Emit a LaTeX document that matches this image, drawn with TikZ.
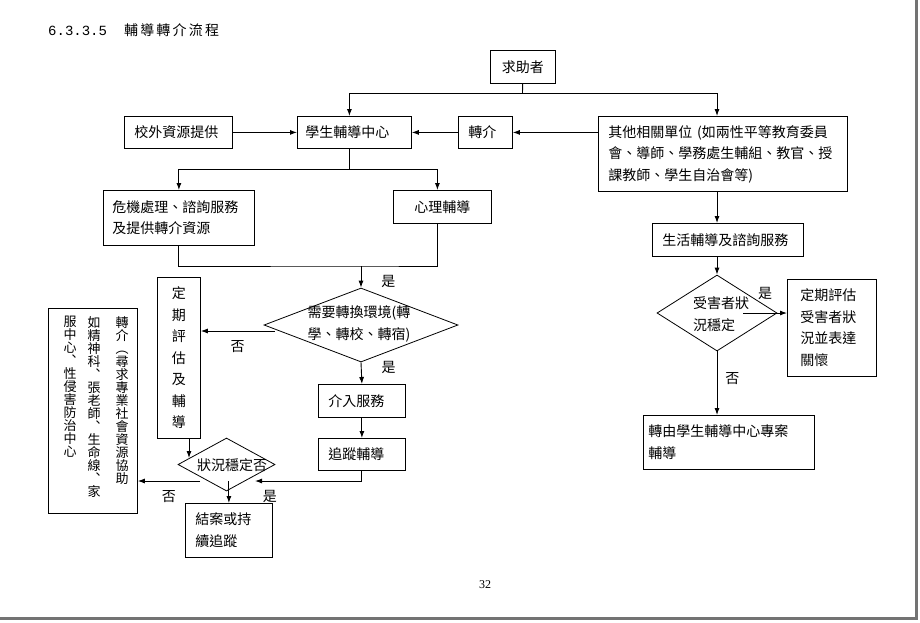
\documentclass[tikz,border=0pt]{standalone}
\usepackage{fontspec}
\setmainfont{Noto Sans CJK TC}
\setmonofont{Liberation Mono}
\newfontfamily\titlefont[LetterSpace=16]{Noto Sans CJK TC}
\newfontfamily\pagefont{Liberation Serif}
\usetikzlibrary{shapes.geometric,arrows.meta,positioning}

\newcommand{\boxfont}{\fontsize{14}{21.5}\selectfont}

\begin{document}
\begin{tikzpicture}[
    x=1pt, y=-1pt,
    box/.style={draw, line width=0.8pt, font=\boxfont, anchor=north west, align=left, inner xsep=10pt, inner ysep=0pt},
    decision/.style={diamond, draw, line width=0.8pt, inner sep=0pt},
    dtext/.style={font=\boxfont, inner sep=0pt, align=center},
    coltext/.style={font=\fontsize{13}{13}\selectfont, inner sep=0pt, align=center, anchor=north},
    lbl/.style={font=\boxfont, inner sep=0pt},
    line/.style={line width=0.9pt},
    arrow/.style={-{Latex[length=7pt,width=5pt]}, line width=0.9pt}
]
    \useasboundingbox (0,0) rectangle (920,622);

    % page edge and heading
    \fill[black!55] (915,0) rectangle (918,620);
    \fill[black!55] (0,617) rectangle (918,620);
    \node[anchor=west, inner sep=0pt] (title) at (48,30)
        {{\ttfamily\fontsize{14}{16}\selectfont 6.3.3.5}\hspace{17pt}{\titlefont\fontsize{14}{16}\selectfont 輔導轉介流程}};
    \node[font=\pagefont\fontsize{12}{14}\selectfont, inner sep=0pt] (pagenum) at (485,585) {32};

    % top row
    \node[box, align=center, minimum width=65pt, minimum height=33pt, inner xsep=0pt] (seek) at (490,50) {求助者};
    \node[box, text width=88pt, minimum height=32pt] (outside) at (124,116) {校外資源提供};
    \node[box, text width=98pt, minimum height=32pt, inner xsep=8pt] (guidance) at (297,116) {學生輔導中心};
    \node[box, text width=34pt, minimum height=32pt] (refer) at (458,116) {轉介};
    \node[box, text width=229pt, minimum height=75pt] (others) at (598,116)
        {其他相關單位 (如兩性平等教育委員\\會、導師、學務處生輔組、教官、授\\課教師、學生自治會等)};

    % left branch
    \node[box, text width=133pt, minimum height=55pt, inner xsep=9pt] (crisis) at (103,190) {危機處理、諮詢服務\\及提供轉介資源};
    \node[box, align=center, minimum width=98pt, minimum height=33pt, inner xsep=0pt] (psych) at (393,190) {心理輔導};
    \node[decision, minimum width=194pt, minimum height=74pt] (need) at (361,325) {};
    \node[dtext] (needtext) at (359,324) {需要轉換環境(轉\\學、轉校、轉宿)};
    \node[box, align=center, minimum width=43pt, minimum height=161pt, inner xsep=0pt] (eval) at (157,277) {定\\期\\評\\估\\及\\輔\\導};
    \node[box, text width=67pt, minimum height=33pt] (act) at (318,384) {介入服務};
    \node[box, text width=67pt, minimum height=32pt] (track) at (318,438) {追蹤輔導};
    \node[decision, minimum width=97pt, minimum height=53pt] (stable) at (226.5,464.5) {};
    \node[dtext] (stabletext) at (232,465) {狀況穩定否};
    \node[box, text width=67pt, minimum height=54pt] (close) at (185,503) {結案或持\\續追蹤};

    % vertical referral box
    \node[box, minimum width=89pt, minimum height=205pt, inner sep=0pt] (ref) at (48,308) {};
    \node[coltext] (refcol1) at (122,316) {轉\\介\\︵\\尋\\求\\專\\業\\社\\會\\資\\源\\協\\助};
    \node[coltext] (refcol2) at (94,316) {如\\精\\神\\科\\︑\\張\\老\\師\\︑\\生\\命\\線\\︑\\家};
    \node[coltext] (refcol3) at (70,316) {服\\中\\心\\︑\\性\\侵\\害\\防\\治\\中\\心};

    % right branch
    \node[box, text width=131pt, minimum height=33pt] (life) at (652,223) {生活輔導及諮詢服務};
    \node[decision, minimum width=120pt, minimum height=76pt] (victim) at (717,313) {};
    \node[dtext, align=left] (victimtext) at (721,314) {受害者狀\\況穩定};
    \node[box, text width=63pt, minimum height=97pt, inner xsep=13pt] (regular) at (787,279) {定期評估\\受害者狀\\況並表達\\關懷};
    \node[box, text width=161pt, minimum height=54pt, inner xsep=5pt] (transfer) at (643,415) {轉由學生輔導中心專案\\輔導};

    % junction points
    \coordinate (split1) at (522.5,93);
    \coordinate (join1) at (361,266);
    \coordinate (stablein) at (255,481);
    \coordinate (stableout) at (200,481);
    \coordinate (evalin) at (189,458);
    \coordinate (victimout) at (743,313);

    % arrows
    \draw[line] (seek) -- (split1);
    \draw[arrow] (split1) -| ([xshift=-5pt]guidance.north);
    \draw[arrow] (split1) -| (others.north -| victim);
    \draw[arrow] (outside) -- (guidance);
    \draw[arrow] (refer) -- (guidance);
    \draw[arrow] (others.west |- refer) -- (refer);
    \draw[arrow] ([xshift=-5pt]guidance.south) -- ++(0,21) -| (crisis.north);
    \draw[arrow] ([xshift=-5pt]guidance.south) -- ++(0,21) -| ([xshift=-5pt]psych.north);
    \draw[line] (crisis.south) |- (join1) -| ([xshift=-5pt]psych.south);
    \draw[arrow] (join1) -- (need.north) node[lbl, pos=0.7, right=20pt] {是};
    \draw[arrow] ([xshift=11pt,yshift=-6pt]need.west) -- ([yshift=-6pt]need.west -| eval.east) node[lbl, midway, below=9pt] {否};
    \draw[arrow] (need.south) -- (act.north) node[lbl, pos=0.25, right=20pt] {是};
    \draw[arrow] (act) -- (track);
    \draw[arrow] (track.south) |- (stablein) node[lbl, pos=0.93, below=9pt] {是};
    \draw[arrow] (eval.south -| evalin) -- (evalin);
    \draw[arrow] (stableout) -- (stableout -| ref.east) node[lbl, midway, below=9pt] {否};
    \draw[arrow] (close.north |- stableout) -- (close.north);

    \draw[arrow] (others.south -| victim) -- (life.north -| victim);
    \draw[arrow] (life.south -| victim) -- (victim.north);
    \draw[arrow] (victimout) -- (victimout -| regular.west) node[lbl, midway, above=13pt] {是};
    \draw[arrow] (victim.south) -- (victim.south |- transfer.north) node[lbl, pos=0.42, right=8pt] {否};
\end{tikzpicture}
\end{document}
